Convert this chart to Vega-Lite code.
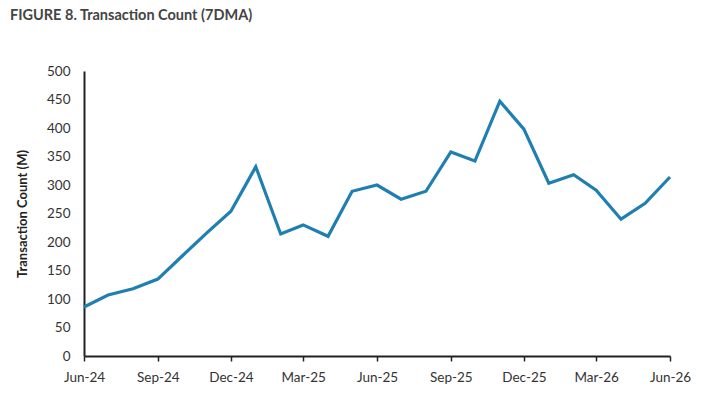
{
  "$schema": "https://vega.github.io/schema/vega-lite/v6.json",
  "autosize": {"type": "none"},
  "width": 586,
  "height": 285,
  "padding": {"left": 84, "top": 71, "right": 48, "bottom": 46},
  "background": "white",
  "title": {
    "text": "FIGURE 8. Transaction Count (7DMA)",
    "anchor": "start",
    "frame": "group",
    "dx": -74,
    "offset": 41,
    "font": "Lato",
    "fontSize": 14.5,
    "fontWeight": "bold",
    "color": "#444444"
  },
  "data": {
    "values": [
      {"date": "2024-06", "count": 86},
      {"date": "2024-07", "count": 107},
      {"date": "2024-08", "count": 118},
      {"date": "2024-09", "count": 135},
      {"date": "2024-10", "count": 175},
      {"date": "2024-11", "count": 216},
      {"date": "2024-12", "count": 254},
      {"date": "2025-01", "count": 332},
      {"date": "2025-02", "count": 214},
      {"date": "2025-03", "count": 230},
      {"date": "2025-04", "count": 210},
      {"date": "2025-05", "count": 289},
      {"date": "2025-06", "count": 300},
      {"date": "2025-07", "count": 275},
      {"date": "2025-08", "count": 289},
      {"date": "2025-09", "count": 358},
      {"date": "2025-10", "count": 342},
      {"date": "2025-11", "count": 447},
      {"date": "2025-12", "count": 398},
      {"date": "2026-01", "count": 303},
      {"date": "2026-02", "count": 318},
      {"date": "2026-03", "count": 291},
      {"date": "2026-04", "count": 240},
      {"date": "2026-05", "count": 268},
      {"date": "2026-06", "count": 314}
    ]
  },
  "mark": {"type": "line", "color": "#1f7fb0", "strokeWidth": 3.2},
  "encoding": {
    "x": {
      "field": "date",
      "type": "temporal",
      "timeUnit": "yearmonth",
      "scale": {"domain": [{"year": 2024, "month": "jun", "date": 1}, {"year": 2026, "month": "jun", "date": 1}]},
      "axis": {
        "title": null,
        "format": "%b-%y",
        "values": [
          {"year": 2024, "month": "jun", "date": 1},
          {"year": 2024, "month": "sep", "date": 1},
          {"year": 2024, "month": "dec", "date": 1},
          {"year": 2025, "month": "mar", "date": 1},
          {"year": 2025, "month": "jun", "date": 1},
          {"year": 2025, "month": "sep", "date": 1},
          {"year": 2025, "month": "dec", "date": 1},
          {"year": 2026, "month": "mar", "date": 1},
          {"year": 2026, "month": "jun", "date": 1}
        ],
        "grid": false,
        "domainColor": "#222222",
        "domainWidth": 2,
        "tickColor": "#222222",
        "tickWidth": 1.5,
        "tickSize": 5,
        "labelFont": "Lato",
        "labelFontSize": 13.5,
        "labelColor": "#333333",
        "labelPadding": 9,
        "labelFlush": false
      }
    },
    "y": {
      "field": "count",
      "type": "quantitative",
      "scale": {"domain": [0, 500]},
      "axis": {
        "title": "Transaction Count (M)",
        "titleFont": "Lato",
        "titleFontSize": 13,
        "titleFontWeight": "bold",
        "titleColor": "#222222",
        "titlePadding": 17,
        "values": [0, 50, 100, 150, 200, 250, 300, 350, 400, 450, 500],
        "grid": false,
        "ticks": false,
        "domainColor": "#222222",
        "domainWidth": 2,
        "labelFont": "Lato",
        "labelFontSize": 13.5,
        "labelColor": "#333333",
        "labelPadding": 14
      }
    }
  },
  "config": {"view": {"stroke": null}}
}
